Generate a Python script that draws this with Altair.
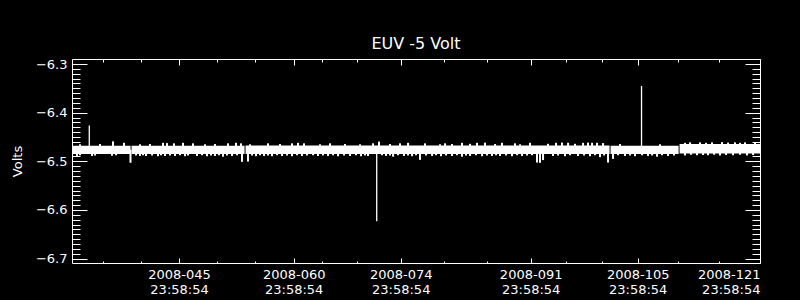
import altair as alt
import pandas as pd
import numpy as np

# ---- data (day-of-year 2008, fractional) ----
# main band, split into segments at small data gaps
seg_id  = [1, 1, 2, 2, 3, 3, 4, 4, 5, 5]
seg_t   = [31.999, 39.66, 39.79, 54.57, 54.70, 102.32, 102.45, 111.35, 111.48, 121.999]
seg_top = [-6.468, -6.468, -6.468, -6.468, -6.4675, -6.4675, -6.468, -6.468, -6.4645, -6.4645]
seg_bot = [-6.4848, -6.4848, -6.4848, -6.4848, -6.4850, -6.4850, -6.4848, -6.4848, -6.4838, -6.4838]

# small upward excursions
bump_t = [37.36, 38.80, 43.90, 44.43, 45.34, 46.52, 47.83, 52.41, 53.45, 54.11,
          57.64, 60.78, 61.56, 62.35, 65.75, 71.38, 72.16, 74.91, 75.96, 78.18,
          80.80, 83.02, 84.98, 86.03, 88.25, 89.95, 91.91, 94.27, 95.32, 96.10,
          96.89, 98.85, 99.50, 100.03, 100.68, 101.47, 112.85, 114.15, 115.72,
          117.03, 118.73, 120.04, 121.35,
          33.05, 35.66, 40.89, 42.20, 49.40, 50.70, 55.29, 59.21, 64.44, 67.71,
          69.68, 73.60, 80.14, 81.71, 84.07, 87.34, 90.61, 97.80, 103.69, 108.92,
          112.19, 114.94, 117.82, 119.39]
bump_v = [-6.459, -6.462, -6.462, -6.4625, -6.463, -6.462, -6.463, -6.463, -6.462, -6.463,
          -6.463, -6.463, -6.462, -6.463, -6.463, -6.463, -6.4595, -6.463, -6.462, -6.463,
          -6.463, -6.462, -6.462, -6.4615, -6.462, -6.463, -6.462, -6.464, -6.462, -6.4615,
          -6.462, -6.462, -6.4615, -6.462, -6.462, -6.4625, -6.461, -6.461, -6.461,
          -6.4605, -6.461, -6.461, -6.461,
          -6.4650, -6.4645, -6.4650, -6.4645, -6.4650, -6.4645, -6.4650, -6.4645, -6.4650, -6.4645,
          -6.4650, -6.4645, -6.4650, -6.4645, -6.4640, -6.4645, -6.4650, -6.4640, -6.4645, -6.4650,
          -6.4620, -6.4620, -6.4615, -6.4620]

# small downward excursions
dip_t = [32.65, 34.62, 37.23, 39.65, 40.89, 41.68, 43.25, 44.17, 45.47, 46.78,
         48.35, 49.66, 50.70, 51.75, 52.93, 54.24, 55.02, 56.07, 57.12, 58.16,
         59.47, 60.78, 62.09, 64.18, 65.49, 66.80, 68.37, 69.81, 70.72, 73.08,
         74.00, 75.43, 76.48, 77.52, 79.10, 80.27, 81.71, 83.02, 84.07, 85.64,
         86.94, 87.99, 89.56, 90.87, 92.83, 93.22, 93.62, 94.92, 96.49, 98.19,
         99.76, 101.07, 102.12, 102.77, 104.34, 105.65, 107.35, 108.53, 109.97,
         112.19, 113.76, 115.20, 116.77, 118.47, 120.30,
         33.05, 35.01, 37.76, 40.37, 41.29, 42.47, 43.64, 44.82, 46.13, 47.17,
         49.00, 50.18, 51.23, 52.28, 53.58, 55.55, 56.59, 57.64, 58.82, 60.13,
         61.43, 62.74, 63.53, 64.83, 66.14, 67.58, 69.15, 70.33, 72.55, 73.60,
         74.65, 75.95, 77.00, 78.31, 79.62, 80.93, 82.36, 83.54, 84.85, 86.29,
         87.47, 88.78, 90.22, 91.52, 92.18, 95.58, 97.15, 98.98, 100.42, 101.60,
         103.43, 105.00, 106.57, 107.88, 109.18, 110.75, 112.98, 114.55, 115.99,
         117.56, 119.39, 121.09]
dip_v = [-6.489, -6.489, -6.4885, -6.503, -6.489, -6.489, -6.4895, -6.489, -6.489, -6.4895,
         -6.489, -6.4895, -6.489, -6.4905, -6.489, -6.501, -6.5005, -6.4895, -6.489, -6.4895,
         -6.489, -6.4895, -6.489, -6.489, -6.489, -6.4895, -6.489, -6.4895, -6.489, -6.489,
         -6.4905, -6.489, -6.4895, -6.497, -6.489, -6.4895, -6.489, -6.4905, -6.489, -6.4895,
         -6.489, -6.489, -6.4895, -6.489, -6.5025, -6.503, -6.4975, -6.489, -6.4895, -6.489,
         -6.4895, -6.4915, -6.5025, -6.495, -6.489, -6.4895, -6.489, -6.4905, -6.489,
         -6.488, -6.4875, -6.4875, -6.488, -6.4875, -6.488,
         -6.4875, -6.4880, -6.4875, -6.4880, -6.4875, -6.4880, -6.4875, -6.4880, -6.4875, -6.4880,
         -6.4875, -6.4880, -6.4875, -6.4880, -6.4875, -6.4880, -6.4875, -6.4880, -6.4875, -6.4880,
         -6.4875, -6.4880, -6.4875, -6.4880, -6.4875, -6.4880, -6.4875, -6.4880, -6.4875, -6.4880,
         -6.4875, -6.4880, -6.4875, -6.4880, -6.4875, -6.4880, -6.4875, -6.4880, -6.4875, -6.4880,
         -6.4875, -6.4880, -6.4875, -6.4880, -6.4875, -6.4880, -6.4875, -6.4880, -6.4875, -6.4880,
         -6.4875, -6.4880, -6.4875, -6.4880, -6.4875, -6.4880, -6.4865, -6.4870, -6.4865,
         -6.4870, -6.4865, -6.4870]

# large isolated spikes
spike_t = [34.26, 71.86, 106.50]
spike_v = [-6.4265, -6.623, -6.345]

band_mid = -6.476

# axis ticks
x_major = [45.999, 60.999, 74.999, 91.999, 105.999, 121.999]
x_minor = [35.999, 40.999, 50.999, 55.999, 64.666, 69.333, 80.666, 86.333,
           96.666, 101.333, 111.333, 116.666]
y_major = [-6.7, -6.6, -6.5, -6.4, -6.3]
y_all = [round(v, 2) for v in np.arange(-6.70, -6.295, 0.01)]

X_DOMAIN = [31.999, 121.999]
Y_DOMAIN = [-6.709, -6.2897]
W, H = 688, 204

band_df = pd.DataFrame({"t": seg_t, "top": seg_top, "bot": seg_bot, "seg": seg_id})
small_df = pd.DataFrame({
    "t": bump_t + dip_t,
    "v": bump_v + dip_v,
    "base": [band_mid] * (len(bump_t) + len(dip_t)),
})
spike_df = pd.DataFrame({"t": spike_t, "v": spike_v, "base": [band_mid] * len(spike_t)})

xs = alt.Scale(domain=X_DOMAIN, nice=False, zero=False)
ys = alt.Scale(domain=Y_DOMAIN, nice=False, zero=False)

x_all = sorted(x_major + x_minor)
x_major_test = "indexof([" + ",".join(str(v) for v in x_major) + "], datum.value) >= 0"
y_major_test = "abs(datum.value*10 - round(datum.value*10)) < 0.001"

label_expr = "[(datum.value < 100 ? '2008-0' : '2008-') + floor(datum.value), '23:58:54']"

# Layer 1: band, with labelled axes (bottom & left) and frame lines
band = alt.Chart(band_df).mark_area(color="white", opacity=1, interpolate="linear").encode(
    x=alt.X("t:Q", scale=xs, axis=alt.Axis(
        orient="bottom", values=x_major, labelExpr=label_expr, ticks=False, tickSize=0,
        labelPadding=5, labelLineHeight=15, title=None, domain=True)),
    y=alt.Y("top:Q", scale=ys, axis=alt.Axis(
        orient="left", values=y_major, format=".1f", ticks=False, tickSize=0,
        labelPadding=5, title="Volts", titlePadding=11, domain=True)),
    y2="bot:Q",
    detail="seg:N",
)

# Layer 2: small excursions; inward ticks on bottom and left edges
small = alt.Chart(small_df).mark_rule(color="white", strokeWidth=2).encode(
    x=alt.X("t:Q", scale=xs, axis=alt.Axis(
        orient="top", offset=-H, values=x_all, labels=False, domain=False, title=None,
        tickSize={"condition": {"test": x_major_test, "value": 5}, "value": 2})),
    y=alt.Y("v:Q", scale=ys, axis=alt.Axis(
        orient="right", offset=-W, values=y_all, labels=False, domain=False, title=None,
        tickSize={"condition": {"test": y_major_test, "value": 15}, "value": 8})),
    y2="base:Q",
)

# Layer 3: large spikes; inward ticks on top and right edges
spikes = alt.Chart(spike_df).mark_rule(color="white", strokeWidth=1.3).encode(
    x=alt.X("t:Q", scale=xs, axis=alt.Axis(
        orient="bottom", offset=-H, values=x_all, labels=False, domain=True, title=None,
        tickSize={"condition": {"test": x_major_test, "value": 6}, "value": 3})),
    y=alt.Y("v:Q", scale=ys, axis=alt.Axis(
        orient="left", offset=-W, values=y_all, labels=False, domain=True, title=None,
        tickSize={"condition": {"test": y_major_test, "value": 15}, "value": 8})),
    y2="base:Q",
)

chart = alt.layer(band, small, spikes).resolve_axis(x="independent", y="independent").properties(
    width=W, height=H,
    title=alt.TitleParams("EUV -5 Volt", color="white", fontSize=16, font="DejaVu Sans",
                          fontWeight="normal", offset=6, anchor="middle"),
    autosize=alt.AutoSizeParams(type="none"),
    padding={"left": 72, "top": 59, "right": 40, "bottom": 37},
    background="black",
).configure_view(stroke=None).configure_axis(
    grid=False,
    domainColor="white", domainWidth=1,
    tickColor="white", tickWidth=1,
    labelColor="white", labelFont="DejaVu Sans", labelFontSize=13,
    titleColor="white", titleFont="DejaVu Sans", titleFontSize=13, titleFontWeight="normal",
)

chart.save("out.html", embed_options={"renderer": "svg", "actions": False})
